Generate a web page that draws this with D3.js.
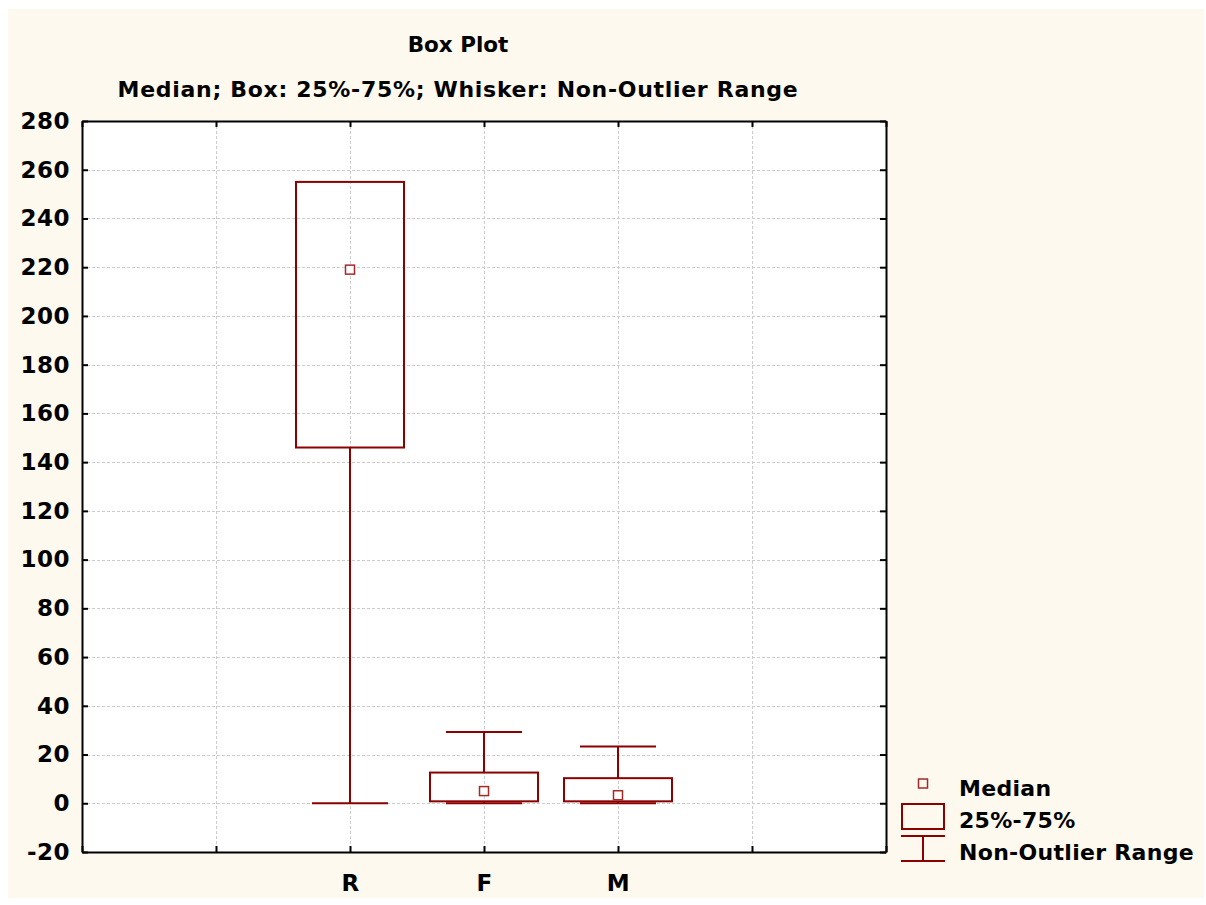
<!DOCTYPE html>
<html>
<head>
<meta charset="utf-8">
<script src="https://cdn.jsdelivr.net/npm/d3@7"></script>
<style>
  html, body { margin: 0; padding: 0; background: #ffffff; }
  svg { display: block; }
  text { font-family: "DejaVu Sans", Verdana, sans-serif; font-weight: bold; fill: #000; }
</style>
</head>
<body>
<svg id="chart" width="1206" height="905"></svg>
<script>
// Box plot summary for each group
const categories = ["R", "F", "M"];
const medians    = [219, 5, 3.3];
const q1Values   = [146, 0.8, 0.8];
const q3Values   = [255, 12.6, 10.3];
const whiskerLow = [0, 0, 0];
const whiskerHigh = [255, 29.2, 23.3];
const yTicks = [-20, 0, 20, 40, 60, 80, 100, 120, 140, 160, 180, 200, 220, 240, 260, 280];
const xSlots = [0, 1, 2, 3, 4, 5, 6];        // category axis divisions
const categorySlots = [2, 3, 4];             // slot of each category

const title = "Box Plot";
const subtitle = "Median; Box: 25%-75%; Whisker: Non-Outlier Range";
const legendLabels = ["Median", "25%-75%", "Non-Outlier Range"];

const boxColor = "#8b0000";
const medianColor = "#a52a2a";

const svg = d3.select("#chart");

// cream panel
svg.append("rect").attr("x", 8).attr("y", 9).attr("width", 1196).attr("height", 889)
  .attr("fill", "#fdf9ee");

const plot = { left: 82, top: 121, right: 886, bottom: 852 };

const x = d3.scaleLinear().domain([0, 6]).range([plot.left, plot.right]);
const y = d3.scaleLinear().domain([-20, 280]).range([plot.bottom, plot.top]);

// plot background
svg.append("rect").attr("x", plot.left).attr("y", plot.top)
  .attr("width", plot.right - plot.left).attr("height", plot.bottom - plot.top)
  .attr("fill", "#ffffff");

// grid lines
const grid = svg.append("g").attr("stroke", "#cccccc").attr("stroke-width", 1)
  .attr("stroke-dasharray", "3,2");
grid.selectAll("line.h").data(yTicks.slice(1, -1)).join("line")
  .attr("x1", plot.left).attr("x2", plot.right)
  .attr("y1", d => Math.round(y(d)) + 0.5).attr("y2", d => Math.round(y(d)) + 0.5);
grid.selectAll("line.v").data(xSlots.slice(1, -1)).join("line")
  .attr("y1", plot.top).attr("y2", plot.bottom)
  .attr("x1", d => Math.round(x(d)) + 0.5).attr("x2", d => Math.round(x(d)) + 0.5);

// axes with inward ticks
const tickLen = 6;
const yLeft = d3.axisLeft(y).tickValues(yTicks).tickSizeInner(-tickLen).tickSizeOuter(0)
  .tickPadding(12).tickFormat(d => String(d));
const yRight = d3.axisRight(y).tickValues(yTicks).tickSizeInner(-tickLen).tickSizeOuter(0).tickFormat("");
const xBottom = d3.axisBottom(x).tickValues(xSlots).tickSizeInner(-tickLen).tickSizeOuter(0)
  .tickFormat(d => { const i = categorySlots.indexOf(d); return i >= 0 ? categories[i] : ""; })
  .tickPadding(23);
const xTop = d3.axisTop(x).tickValues(xSlots).tickSizeInner(-tickLen).tickSizeOuter(0).tickFormat("");

function styleAxis(g) {
  g.select(".domain").attr("stroke", "#000").attr("stroke-width", 2);
  g.selectAll(".tick line").attr("stroke", "#000").attr("stroke-width", 2);
  g.selectAll(".tick text").attr("font-size", 23).attr("letter-spacing", 0.5)
    .attr("font-family", null).attr("fill", "#000");
}

svg.append("g").attr("transform", `translate(${plot.left},0)`).call(yLeft).call(styleAxis);
svg.append("g").attr("transform", `translate(${plot.right},0)`).call(yRight).call(styleAxis);
svg.append("g").attr("transform", `translate(0,${plot.bottom})`).call(xBottom).call(styleAxis);
svg.append("g").attr("transform", `translate(0,${plot.top})`).call(xTop).call(styleAxis);

// boxes
const boxW = 108, capW = 76, medSize = 9;
const data = categories.map((c, i) => ({
  cat: c, cx: x(categorySlots[i]), med: medians[i], q1: q1Values[i], q3: q3Values[i],
  lo: whiskerLow[i], hi: whiskerHigh[i]
}));

const boxes = svg.append("g").selectAll("g").data(data).join("g");

// whiskers
boxes.filter(d => d.hi > d.q3).append("line")
  .attr("x1", d => d.cx).attr("x2", d => d.cx)
  .attr("y1", d => y(d.q3)).attr("y2", d => y(d.hi))
  .attr("stroke", boxColor).attr("stroke-width", 2);
boxes.filter(d => d.hi > d.q3).append("line")
  .attr("x1", d => d.cx - capW / 2).attr("x2", d => d.cx + capW / 2)
  .attr("y1", d => y(d.hi)).attr("y2", d => y(d.hi))
  .attr("stroke", boxColor).attr("stroke-width", 2);
boxes.append("line")
  .attr("x1", d => d.cx).attr("x2", d => d.cx)
  .attr("y1", d => y(d.q1)).attr("y2", d => y(d.lo))
  .attr("stroke", boxColor).attr("stroke-width", 2);
boxes.append("line")
  .attr("x1", d => d.cx - capW / 2).attr("x2", d => d.cx + capW / 2)
  .attr("y1", d => y(d.lo)).attr("y2", d => y(d.lo))
  .attr("stroke", boxColor).attr("stroke-width", 2);

boxes.append("rect")
  .attr("x", d => d.cx - boxW / 2).attr("width", boxW)
  .attr("y", d => y(d.q3)).attr("height", d => y(d.q1) - y(d.q3))
  .attr("fill", "none").attr("stroke", boxColor).attr("stroke-width", 2);

boxes.append("rect")
  .attr("x", d => d.cx - medSize / 2).attr("y", d => y(d.med) - medSize / 2)
  .attr("width", medSize).attr("height", medSize)
  .attr("fill", "#fff").attr("stroke", medianColor).attr("stroke-width", 1.5);

// titles
svg.append("text").attr("x", 458).attr("y", 52).attr("text-anchor", "middle")
  .attr("font-size", 21.5).text(title);
svg.append("text").attr("x", 458).attr("y", 97).attr("text-anchor", "middle")
  .attr("font-size", 22).attr("letter-spacing", 0.7).text(subtitle);

// legend
const legend = svg.append("g");
const lx = 923;
legend.append("rect").attr("x", lx - 4.5).attr("y", 779).attr("width", 9).attr("height", 9)
  .attr("fill", "none").attr("stroke", medianColor).attr("stroke-width", 1.5);
legend.append("rect").attr("x", 902).attr("y", 804).attr("width", 42).attr("height", 25)
  .attr("fill", "none").attr("stroke", boxColor).attr("stroke-width", 2);
legend.append("line").attr("x1", 901).attr("x2", 945).attr("y1", 836).attr("y2", 836)
  .attr("stroke", boxColor).attr("stroke-width", 2);
legend.append("line").attr("x1", lx).attr("x2", lx).attr("y1", 836).attr("y2", 861)
  .attr("stroke", boxColor).attr("stroke-width", 2);
legend.append("line").attr("x1", 901).attr("x2", 945).attr("y1", 861).attr("y2", 861)
  .attr("stroke", boxColor).attr("stroke-width", 2);
legend.selectAll("text.lab").data(legendLabels).join("text")
  .attr("x", 959).attr("y", (d, i) => 796 + i * 32)
  .attr("font-size", 22).attr("letter-spacing", 0.3).text(d => d);
</script>
</body>
</html>
